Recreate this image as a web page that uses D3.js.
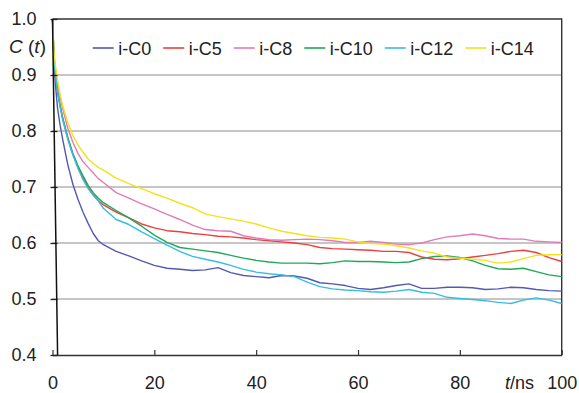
<!DOCTYPE html>
<html>
<head>
<meta charset="utf-8">
<script src="https://cdn.jsdelivr.net/npm/d3@7"></script>
<style>
  body { margin: 0; background: #fff; }
  svg { display: block; font-family: "Liberation Sans", Arial, Helvetica, sans-serif; }
</style>
</head>
<body>
<svg id="chart" width="579" height="393"></svg>
<script>
// Time axis shared by all series (ns)
const times = [0, 0.3, 0.6, 1, 1.5, 2, 3, 4, 5, 6, 7, 8, 9, 10,
  12.5, 15, 17.5, 20, 22.5, 25, 27.5, 30, 32.5, 35, 37.5, 40, 42.5, 45, 47.5, 50,
  52.5, 55, 57.5, 60, 62.5, 65, 67.5, 70, 72.5, 75, 77.5, 80, 82.5, 85, 87.5, 90,
  92.5, 95, 97.5, 100];

// Autocorrelation C(t) for each system
const cC0 = [1.0, 0.92, 0.88, 0.84, 0.81, 0.785, 0.74, 0.705, 0.678, 0.655, 0.635, 0.617, 0.604, 0.597,
  0.585, 0.577, 0.568, 0.560, 0.555, 0.553, 0.551, 0.552, 0.556, 0.547, 0.542, 0.540, 0.538, 0.542, 0.541, 0.537,
  0.529, 0.527, 0.524, 0.519, 0.517, 0.520, 0.524, 0.527, 0.519, 0.519, 0.521, 0.521, 0.520, 0.517, 0.518, 0.521,
  0.520, 0.517, 0.515, 0.514];
const cC5 = [1.0, 0.93, 0.90, 0.87, 0.845, 0.823, 0.788, 0.758, 0.736, 0.716, 0.699, 0.686, 0.676, 0.668,
  0.655, 0.645, 0.634, 0.627, 0.622, 0.620, 0.617, 0.615, 0.612, 0.611, 0.609, 0.606, 0.604, 0.602, 0.600, 0.597,
  0.592, 0.590, 0.589, 0.588, 0.587, 0.585, 0.585, 0.583, 0.575, 0.571, 0.570, 0.572, 0.575, 0.578, 0.581, 0.585,
  0.587, 0.583, 0.574, 0.567];
const cC8 = [1.0, 0.935, 0.91, 0.885, 0.86, 0.84, 0.805, 0.78, 0.76, 0.745, 0.735, 0.725, 0.715, 0.708,
  0.690, 0.680, 0.670, 0.661, 0.651, 0.642, 0.632, 0.624, 0.622, 0.621, 0.613, 0.609, 0.606, 0.605, 0.606, 0.607,
  0.606, 0.604, 0.601, 0.601, 0.603, 0.601, 0.598, 0.597, 0.600, 0.606, 0.611, 0.613, 0.616, 0.613, 0.608, 0.607,
  0.607, 0.603, 0.602, 0.601];
const cC10 = [1.0, 0.93, 0.90, 0.87, 0.845, 0.823, 0.788, 0.76, 0.738, 0.72, 0.703, 0.69, 0.68, 0.672,
  0.658, 0.645, 0.630, 0.614, 0.601, 0.592, 0.589, 0.586, 0.583, 0.578, 0.573, 0.569, 0.566, 0.564, 0.564, 0.564,
  0.563, 0.565, 0.568, 0.567, 0.567, 0.566, 0.565, 0.566, 0.572, 0.576, 0.577, 0.574, 0.568, 0.560, 0.554, 0.553,
  0.555, 0.549, 0.543, 0.540];
const cC12 = [1.0, 0.93, 0.90, 0.87, 0.843, 0.82, 0.785, 0.757, 0.733, 0.713, 0.697, 0.685, 0.675, 0.662,
  0.642, 0.633, 0.620, 0.608, 0.596, 0.585, 0.576, 0.571, 0.566, 0.560, 0.553, 0.548, 0.545, 0.543, 0.540, 0.530,
  0.522, 0.518, 0.516, 0.515, 0.513, 0.512, 0.514, 0.517, 0.512, 0.510, 0.503, 0.501, 0.499, 0.497, 0.494, 0.492,
  0.498, 0.502, 0.498, 0.492];
const cC14 = [1.0, 0.94, 0.915, 0.89, 0.865, 0.845, 0.815, 0.792, 0.775, 0.762, 0.75, 0.742, 0.735, 0.73,
  0.716, 0.706, 0.697, 0.688, 0.680, 0.671, 0.663, 0.652, 0.647, 0.643, 0.639, 0.634, 0.627, 0.621, 0.617, 0.613,
  0.610, 0.609, 0.607, 0.602, 0.599, 0.598, 0.595, 0.591, 0.586, 0.582, 0.575, 0.573, 0.571, 0.569, 0.564, 0.566,
  0.572, 0.578, 0.579, 0.579];

const seriesNames = ["i-C0", "i-C5", "i-C8", "i-C10", "i-C12", "i-C14"];
const seriesValues = [cC0, cC5, cC8, cC10, cC12, cC14];
const seriesColors = ["#5159b4", "#ef3e3e", "#e37bb6", "#20a858", "#35bde2", "#f2e21c"];

const xTicks = [0, 20, 40, 60, 80, 100];
const yTicks = [0.4, 0.5, 0.6, 0.7, 0.8, 0.9, 1.0];
const gridValues = [0.5, 0.6, 0.7, 0.8, 0.9];

const svg = d3.select("#chart");
const x = d3.scaleLinear().domain([0, 100]).range([52.5, 561.7]);
const y = d3.scaleLinear().domain([0.4, 1.0]).range([355, 19]);
const fontSize = 18;

// dotted horizontal gridlines
svg.append("g").selectAll("line").data(gridValues).join("line")
  .attr("x1", x(0)).attr("x2", x(100))
  .attr("y1", d => y(d)).attr("y2", d => y(d))
  .attr("stroke", "#1a1a1a").attr("stroke-width", 1)
  .attr("stroke-dasharray", "1,1");

// top and right frame
svg.append("path")
  .attr("d", `M${x(0)},${y(1.0)}H${x(100)}V${y(0.4)}`)
  .attr("fill", "none").attr("stroke", "#333").attr("stroke-width", 1.4);

// curves
const line = d3.line().x((d, i) => x(times[i])).y(d => y(d));
svg.append("g").selectAll("path").data(seriesValues).join("path")
  .attr("d", d => line(d))
  .attr("fill", "none")
  .attr("stroke", (d, i) => seriesColors[i])
  .attr("stroke-width", 1.4)
  .attr("stroke-linejoin", "round");

// x axis
const xAxis = svg.append("g")
  .attr("transform", `translate(0,${y(0.4)})`)
  .call(d3.axisBottom(x).tickValues(xTicks).tickSizeInner(-5).tickSizeOuter(0).tickPadding(21));
xAxis.select(".domain").attr("stroke", "#333").attr("stroke-width", 1.4);
xAxis.selectAll(".tick line").attr("stroke", "#333").attr("stroke-width", 1.2);
xAxis.selectAll(".tick text").attr("fill", "#222").style("font-size", fontSize + "px")
  .style("font-family", "'Liberation Sans', Arial, sans-serif");

// y axis (ticks and labels); the spine is drawn separately
const yAxis = svg.append("g")
  .attr("transform", `translate(${x(0)},0)`)
  .call(d3.axisLeft(y).tickValues(yTicks).tickFormat(d3.format(".1f"))
    .tickSizeInner(-5).tickSizeOuter(0).tickPadding(16));
yAxis.select(".domain").remove();
yAxis.selectAll(".tick line").attr("x1", -2).attr("stroke", "#222").attr("stroke-width", 1.3);
yAxis.selectAll(".tick text").attr("fill", "#222").style("font-size", fontSize + "px")
  .style("font-family", "'Liberation Sans', Arial, sans-serif");

// the left spine leans slightly, from t=0 at the top to t=1 at the bottom
svg.append("line")
  .attr("x1", x(0)).attr("y1", y(1.0))
  .attr("x2", x(1)).attr("y2", y(0.4))
  .attr("stroke", "#111").attr("stroke-width", 1.5);

// y-axis title C(t)
const yt = svg.append("text").attr("x", 9).attr("y", 53)
  .attr("fill", "#222").style("font-size", "19px");
yt.append("tspan").attr("font-style", "italic").text("C");
yt.append("tspan").text(" (");
yt.append("tspan").attr("font-style", "italic").text("t");
yt.append("tspan").text(")");

// x-axis title t/ns
const xt = svg.append("text").attr("x", 505).attr("y", 389)
  .attr("fill", "#222").style("font-size", fontSize + "px");
xt.append("tspan").attr("font-style", "italic").text("t");
xt.append("tspan").text("/ns");

// legend in a single row
const legend = svg.append("g");
let lx = 92.7;
const ly = 48;
seriesNames.forEach((name, i) => {
  legend.append("line")
    .attr("x1", lx).attr("x2", lx + 21).attr("y1", ly).attr("y2", ly)
    .attr("stroke", seriesColors[i]).attr("stroke-width", 1.6);
  const t = legend.append("text")
    .attr("x", lx + 25.5).attr("y", ly + 6.5)
    .attr("fill", "#222").style("font-size", fontSize + "px")
    .text(name);
  lx = lx + 25.5 + t.node().getComputedTextLength() + 12;
});
</script>
</body>
</html>
